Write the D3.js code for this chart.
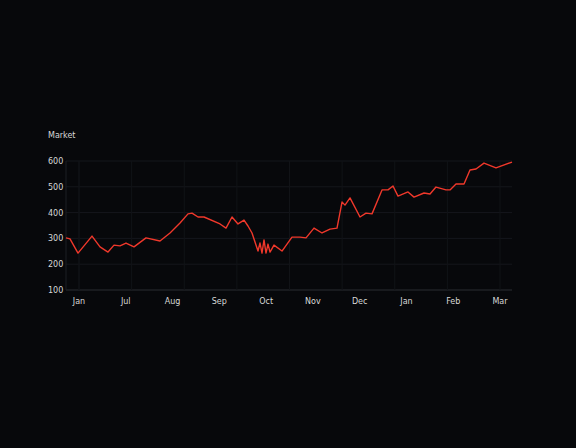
<!DOCTYPE html>
<html><head><meta charset="utf-8">
<script src="https://cdn.jsdelivr.net/npm/d3@7"></script>
<style>html,body{margin:0;background:#07080b;}</style></head>
<body><svg id="c" width="576" height="448"></svg>
<script>
const days = [0,4,12,26,34,42,48,54,60,68,80,94,104,114,122,126,132,138,154,160,166,172,178,182,186,192,194,196,198,200,202,204,208,216,226,234,240,248,256,264,271,276,279,284,294,300,306,316,322,327,332,342,348,358,364,370,380,384,390,398,404,410,418,430,446];
const values = [302,298,243,309,267,247,274,271,282,267,302,290,321,360,395,398,383,383,356,340,383,356,371,348,321,251,282,243,294,243,278,247,274,251,305,305,302,340,321,336,340,441,429,457,383,398,395,488,488,503,464,480,460,476,472,499,488,488,511,511,565,569,592,573,596];
const yTicks = [100,200,300,400,500,600];
const xLabels = ["Jan","Jul","Aug","Sep","Oct","Nov","Dec","Jan","Feb","Mar"];
const svg = d3.select("#c");
const L=66,R=512,T=161,B=290;
const x = d3.scaleLinear().domain([0,446]).range([L,R]);
const y = d3.scaleLinear().domain([100,600]).range([B,T]);
svg.append("g").selectAll("line").data(yTicks).join("line")
 .attr("x1",L).attr("x2",R).attr("y1",d=>y(d)).attr("y2",d=>y(d))
 .attr("stroke",d=>d===100?"#2a2d33":"#15171c").attr("stroke-width",1);
const xb = d3.scalePoint().domain(xLabels).range([79,500]);
svg.append("g").selectAll("line").data(xLabels).join("line")
 .attr("x1",d=>xb(d)).attr("x2",d=>xb(d)).attr("y1",T).attr("y2",B)
 .attr("stroke","#111317");
svg.append("line").attr("x1",L).attr("x2",L).attr("y1",T).attr("y2",B).attr("stroke","#1c1f24");
svg.append("g").selectAll("text").data(yTicks).join("text")
 .attr("x",48).attr("y",d=>y(d)+3).attr("fill","#d8d8d8").attr("font-size",8)
 .attr("font-family","DejaVu Sans").text(d=>d);
svg.append("g").selectAll("text").data(xLabels.map((d,i)=>({d,i}))).join("text")
 .attr("x",(d)=>xb.range()[0]+d.i*(xb.range()[1]-xb.range()[0])/(xLabels.length-1)).attr("y",304).attr("text-anchor","middle")
 .attr("fill","#d8d8d8").attr("font-size",8).attr("font-family","DejaVu Sans").text(d=>d.d);
svg.append("text").attr("x",48).attr("y",138).attr("fill","#d8d8d8").attr("font-size",8)
 .attr("font-family","DejaVu Sans").text("Market");
svg.append("path").datum(days.map((d,i)=>[d,values[i]]))
 .attr("d",d3.line().x(d=>x(d[0])).y(d=>y(d[1])))
 .attr("fill","none").attr("stroke","#f0382b").attr("stroke-width",1.4).attr("stroke-linejoin","round");
</script></body></html>
